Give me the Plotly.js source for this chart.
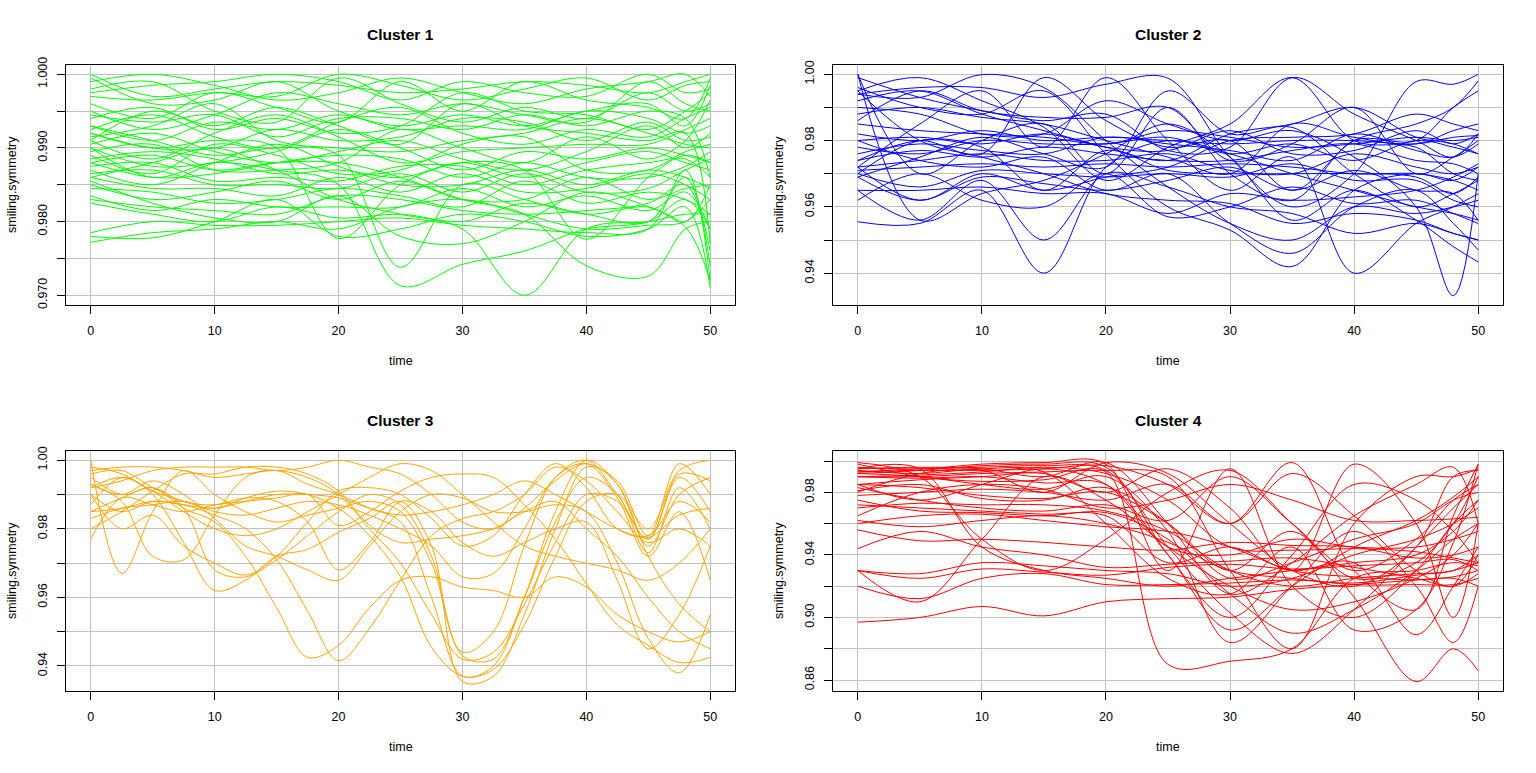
<!DOCTYPE html>
<html><head><meta charset="utf-8">
<script src="https://cdn.plot.ly/plotly-3.0.1.min.js"></script>
<style>html,body{margin:0;padding:0;background:#fff}#chart{width:1536px;height:773px}</style>
</head><body><div id="chart"></div>
<script>
// time grids (knots)
const time12 = [0,5,10,15,20,25,30,35,40,45,48,50];
const time21 = [0,2.5,5,7.5,10,12.5,15,17.5,20,22.5,25,27.5,30,32.5,35,37.5,40,42.5,45,47.5,50];

const titles = ['Cluster 1','Cluster 2','Cluster 3','Cluster 4'];
const colors = ['#00FF00','#0000FF','#FFA500','#FF0000'];
const xLabel = 'time';
const yLabel = 'smiling.symmetry';

const xTickVals = [0,10,20,30,40,50];
const xTickText = ['0','10','20','30','40','50'];
const yTickVals1 = [0.970,0.975,0.980,0.985,0.990,0.995,1.000];
const yTickText1 = ['0.970','','0.980','','0.990','','1.000'];
const yTickVals2 = [0.94,0.95,0.96,0.97,0.98,0.99,1.00];
const yTickText2 = ['0.94','','0.96','','0.98','','1.00'];
const yTickVals3 = [0.94,0.95,0.96,0.97,0.98,0.99,1.00];
const yTickText3 = ['0.94','','0.96','','0.98','','1.00'];
const yTickVals4 = [0.86,0.88,0.90,0.92,0.94,0.96,0.98,1.00];
const yTickText4 = ['0.86','','0.90','','0.94','','0.98',''];

const cluster1 = [
[.9995,.9960,.9965,.9990,.9950,.9930,.9945,.9930,.9950,.9960,.9930,.9985],
[.9980,.9990,.9950,.9935,.9995,.9960,.9935,.9955,.9940,.9975,.9950,.9960],
[.9960,.9940,.9975,.9955,.9935,.9990,.9950,.9990,.9965,.9955,.9940,.9995],
[.9950,.9925,.9945,.9975,.9960,.9945,.9960,.9945,.9935,.9990,.9960,.9950],
[.9940,.9955,.9925,.9940,.9920,.9930,.9975,.9950,.9945,.9925,.9950,.9975],
[.9930,.9910,.9935,.9925,.9945,.9925,.9930,.9925,.9950,.9940,.9920,.9930],
[.9925,.9945,.9915,.9900,.9935,.9955,.9920,.9905,.9925,.9915,.9940,.9955],
[.9920,.9900,.9900,.9925,.9910,.9915,.9940,.9935,.9910,.9935,.9910,.9915],
[.9915,.9930,.9960,.9910,.9900,.9895,.9910,.9920,.9940,.9920,.9905,.9900],
[.9910,.9885,.9920,.9945,.9915,.9880,.9895,.9900,.9905,.9905,.9925,.9940],
[.9905,.9920,.9895,.9880,.9895,.9910,.9885,.9870,.9895,.9930,.9900,.9920],
[.9900,.9875,.9880,.9895,.9925,.9900,.9870,.9895,.9885,.9900,.9890,.9880],
[.9895,.9905,.9870,.9870,.9880,.9925,.9900,.9880,.9915,.9885,.9910,.9965],
[.9890,.9865,.9905,.9890,.9865,.9870,.9905,.9915,.9870,.9870,.9895,.9905],
[.9885,.9895,.9885,.9865,.9870,.9860,.9880,.9860,.9880,.9895,.9880,.9870],
[.9880,.9860,.9865,.9880,.9890,.9885,.9860,.9880,.9860,.9860,.9875,.9895],
[.9875,.9880,.9855,.9860,.9855,.9875,.9875,.9850,.9870,.9880,.9885,.9860],
[.9870,.9850,.9880,.9905,.9875,.9850,.9850,.9870,.9850,.9870,.9860,.9845],
[.9865,.9870,.9850,.9850,.9845,.9865,.9840,.9865,.9840,.9845,.9870,.9885],
[.9860,.9845,.9845,.9835,.9860,.9840,.9865,.9840,.9845,.9865,.9850,.9830],
[.9850,.9830,.9840,.9855,.9830,.9855,.9830,.9830,.9860,.9830,.9845,.9850],
[.9845,.9840,.9825,.9830,.9845,.9835,.9820,.9855,.9825,.9840,.9830,.9810],
[.9835,.9815,.9830,.9820,.9820,.9820,.9845,.9820,.9835,.9815,.9840,.9790],
[.9830,.9820,.9815,.9810,.9835,.9830,.9815,.9810,.9815,.9825,.9850,.9760],
[.9825,.9810,.9800,.9820,.9805,.9810,.9800,.9825,.9810,.9800,.9860,.9740],
[.9785,.9800,.9795,.9795,.9800,.9805,.9795,.9790,.9785,.9790,.9870,.9720],
[.9772,.9785,.9790,.9800,.9790,.9820,.9830,.9810,.9790,.9795,.9800,.9830],
[.9780,.9778,.9800,.9830,.9780,.9790,.9810,.9800,.9780,.9790,.9820,.9710],
[.9900,.9860,.9880,.9870,.9850,.9713,.9742,.9760,.9790,.9800,.9830,.9790],
[.9930,.9910,.9890,.9900,.9890,.9738,.9850,.9830,.9810,.9820,.9800,.9850],
[.9860,.9880,.9900,.9870,.9830,.9810,.9790,.9700,.9790,.9800,.9810,.9810],
[.9880,.9890,.9870,.9880,.9880,.9860,.9830,.9810,.9740,.9726,.9790,.9800],
[.9920,.9900,.9910,.9900,.9777,.9850,.9880,.9870,.9776,.9860,.9890,.9880],
[1.000,.9970,.9980,.9990,.9985,.9975,.9980,.9990,.9985,.9975,.9990,1.000],
[.9990,1.000,.9985,.9965,.9975,.9995,.9975,.9960,.9980,.9990,1.000,.9970],
[.9975,.9985,.9990,1.000,.9990,.9965,.9990,.9975,.9970,1.000,.9975,.9980],
[.9970,.9965,.9975,.9970,1.000,.9985,.9965,.9980,.9995,.9965,.9985,.9990],
[.9855,.9825,.9805,.9800,.9835,.9780,.9770,.9800,.9840,.9820,.9793,.9720],
[.9945,.9935,.9945,.9915,.9940,.9940,.9925,.9945,.9930,.9950,.9940,.9860],
[.9910,.9950,.9930,.9955,.9930,.9905,.9960,.9930,.9920,.9910,.9920,.9770]
];

const cluster2 = [
[.9555,.9550,.9650,.9400,.9720,.9800,.9760,.9700,.9650,.9600,.9580,.9560],
[.9650,.9560,.9680,.9500,.9700,.9660,.9600,.9580,.9520,.9550,.9520,.9500],
[1.000,.9560,.9640,.9680,.9760,.9850,.9750,.9560,.9650,.9560,.9480,.9434],
[.9950,.9990,.9920,.9840,.9680,.9780,.9850,.9990,.9800,.9780,.9700,.9680],
[.9940,.9960,.9960,.9930,.9970,.9988,.9750,.9600,.9700,.9978,.9970,1.000],
[.9940,.9930,.9999,.9960,.9800,.9660,.9550,.9500,.9600,.9580,.9600,.9620],
[.9900,.9880,.9820,.9820,.9920,.9850,.9800,.9830,.9750,.9600,.9332,.9700],
[.9880,.9900,.9870,.9850,.9800,.9750,.9700,.9850,.9810,.9790,.9830,.9850],
[.9850,.9830,.9820,.9810,.9790,.9830,.9810,.9780,.9790,.9810,.9800,.9810],
[.9820,.9800,.9830,.9800,.9810,.9800,.9790,.9800,.9800,.9790,.9810,.9815],
[.9800,.9810,.9790,.9820,.9780,.9770,.9830,.9760,.9770,.9830,.9790,.9820],
[.9780,.9760,.9800,.9790,.9790,.9810,.9760,.9790,.9740,.9800,.9780,.9760],
[.9760,.9790,.9770,.9760,.9810,.9790,.9770,.9740,.9820,.9770,.9750,.9790],
[.9740,.9770,.9750,.9780,.9760,.9740,.9740,.9770,.9790,.9740,.9730,.9700],
[.9720,.9740,.9760,.9740,.9740,.9760,.9710,.9700,.9760,.9720,.9700,.9720],
[.9710,.9720,.9730,.9720,.9730,.9720,.9730,.9720,.9700,.9700,.9680,.9650],
[.9700,.9660,.9710,.9700,.9690,.9700,.9690,.9730,.9680,.9680,.9620,.9600],
[.9690,.9620,.9690,.9670,.9650,.9680,.9720,.9650,.9710,.9650,.9640,.9560],
[.9650,.9650,.9660,.9640,.9640,.9580,.9640,.9620,.9630,.9650,.9690,.9730],
[.9620,.9700,.9620,.9600,.9700,.9570,.9600,.9660,.9610,.9620,.9580,.9550],
[.9950,.9800,.9750,.9700,.9640,.9620,.9610,.9550,.9580,.9560,.9520,.9500],
[1.000,.9700,.9800,.9850,.9700,.9900,.9700,.9620,.9800,.9800,.9900,.9950],
[.9720,.9850,.9950,.9780,.9990,.9800,.9650,.9750,.9400,.9550,.9600,.9640],
[.9960,.9900,.9880,.9950,.9760,.9600,.9530,.9420,.9650,.9700,.9680,.9720],
[.9740,.9800,.9760,.9990,.9860,.9780,.9800,.9650,.9800,.9850,.9900,.9980],
[.9860,.9950,.9890,.9870,.9870,.9900,.9740,.9790,.9900,.9700,.9750,.9800],
[.9800,.9740,.9720,.9750,.9650,.9700,.9550,.9460,.9600,.9650,.9550,.9470],
[.9690,.9750,.9810,.9760,.9720,.9950,.9820,.9840,.9700,.9600,.9640,.9680],
[.9990,.9930,.9890,.9860,.9880,.9770,.9780,.9990,.9880,.9800,.9750,.9820],
[.9720,.9620,.9700,.9650,.9690,.9720,.9800,.9810,.9820,.9880,.9850,.9830],
[.9700,.9800,.9780,.9650,.9770,.9710,.9700,.9700,.9700,.9690,.9640,.9690],
[.9920,.9950,.9880,.9830,.9780,.9740,.9820,.9850,.9900,.9810,.9790,.9760]
];

const cluster3 = [
[.995,.990,.992,.986,.982,.972,.957,.9425,.946,.957,.965,.966,.963,.962,.960,.966,.963,.955,.950,.947,.950],
[.990,.985,.988,.987,.984,.980,.971,.956,.9415,.951,.965,.978,.983,.985,.990,.998,.994,.985,.976,.980,.975],
[1.000,.967,.985,.997,.990,.985,.982,.984,.986,.988,.985,.970,.944,.950,.975,.995,1.000,.990,.977,.995,.985],
[.993,.988,.972,.971,.984,.995,.997,.993,.990,.986,.982,.960,.937,.940,.960,.985,1.000,.993,.975,.990,.995],
[.998,.996,.990,.976,.962,.965,.972,.974,.979,.983,.988,.975,.9355,.937,.955,.980,.998,.994,.978,.999,.990],
[.985,.989,.992,.986,.968,.966,.971,.978,.985,.990,.987,.972,.943,.942,.960,.982,.995,.990,.973,.992,.980],
[.990,.980,.984,.975,.970,.9665,.972,.982,.991,.992,.990,.983,.975,.978,.990,.999,.992,.980,.978,.988,.982],
[.987,.995,.991,.988,.986,.989,.991,.990,.986,.978,.966,.9455,.937,.939,.952,.972,.988,.990,.980,.997,1.000],
[.997,.998,.998,.997,.995,.996,.997,.995,.990,.980,.970,.955,.942,.944,.958,.976,.990,.988,.977,.996,.994],
[.985,.986,.988,.987,.986,.988,.990,.990,.989,.986,.984,.985,.987,.990,.994,.990,.985,.980,.9775,.984,.986],
[.980,.985,.991,.996,.996,.998,.998,.996,.991,.981,.976,.977,.978,.980,.985,.988,.980,.972,.960,.950,.945],
[.977,.989,.987,.985,.987,.988,.989,.990,.981,.985,.991,.995,.996,.995,.987,.977,.964,.952,.946,.941,.9425],
[.992,.994,.997,.998,.998,.998,.997,.998,1.000,.998,.996,.990,.982,.980,.986,.994,.999,.993,.972,.958,.950],
[.993,.990,.994,.990,.983,.975,.972,.968,.965,.975,.985,.990,.989,.985,.985,.987,.985,.970,.948,.938,.955],
[.996,.997,.992,.988,.987,.989,.988,.982,.968,.976,.988,.985,.976,.972,.976,.980,.982,.965,.945,.955,.975],
[.983,.986,.987,.988,.985,.984,.986,.988,.987,.984,.980,.975,.966,.967,.980,.995,.999,.989,.972,.985,.965],
[.992,.995,.991,.985,.980,.978,.980,.985,.990,.995,.999,.997,.990,.982,.975,.972,.970,.968,.965,.970,.980]
];

const cluster4 = [
[.897,.900,.907,.901,.910,.912,.913,.918,.921,.924,.926,.930],
[.930,.925,.931,.929,.927,.932,.934,.931,.933,.935,.937,.930],
[.920,.912,.925,.928,.921,.921,.922,.924,.922,.927,.930,.935],
[.956,.949,.950,.948,.945,.943,.948,.946,.945,.938,.940,.945],
[.944,.955,.945,.940,.932,.934,.936,.938,.932,.925,.920,.928],
[.970,.973,.972,.972,.968,.955,.930,.920,.925,.928,.930,.940],
[.975,.968,.967,.965,.967,.950,.915,.890,.905,.930,.950,.960],
[.981,.985,.976,.975,.983,.960,.925,.935,.950,.960,.975,.980],
[.990,.991,.993,.996,.992,.975,.945,.943,.944,.942,.938,.935],
[.993,.995,.996,.997,.994,.945,.903,.877,.905,.945,.970,.985],
[.995,.996,.995,.990,.999,.960,.915,.935,.965,.985,.996,.960],
[.992,.990,.985,.982,.990,.955,.884,.920,.955,.920,.884,.920],
[.998,.990,.987,.988,.993,.870,.872,.880,.925,.930,.935,.933],
[.985,.983,.978,.976,.980,.960,.930,.955,.913,.859,.880,.866],
[.996,.995,.998,.999,.998,.930,.995,.920,.900,.930,.960,.975],
[.993,.994,.994,.995,.997,.985,.960,.999,.930,.905,.965,.998],
[.990,.990,.992,.993,.994,.990,.930,.880,.960,.990,.990,.995],
[.985,.988,.990,.992,.980,.995,.970,.930,.998,.960,.900,.960],
[.999,.990,.950,.930,.950,.980,.994,.960,.925,.935,.960,.990],
[.995,.995,.945,.930,.925,.920,.925,.930,.935,.940,.955,.975],
[.930,.910,.950,.990,.975,.945,.920,.905,.910,.925,.940,.960],
[.985,.975,.985,.995,.985,.945,.940,.950,.945,.945,.950,.955],
[.965,.980,.985,.982,.970,.975,.985,.975,.962,.962,.963,.964],
[.983,.975,.970,.968,.972,.962,.990,.960,.930,.950,.975,.985],
[.960,.965,.966,.962,.958,.955,.945,.930,.926,.924,.925,.920],
[.990,.989,.990,.986,.985,.940,.892,.920,.945,.962,.977,.990],
[.994,.992,.995,.993,.960,.925,.915,.945,.892,.905,.948,.998],
[.972,.970,.968,.966,.965,.935,.945,.930,.935,.889,.920,.945],
[.962,.958,.962,.965,.960,.948,.930,.925,.921,.921,.921,.925],
[.978,.980,.982,.980,.975,.985,.960,.992,.965,.930,.920,.940],
[.992,.994,.997,.998,.996,.940,.900,.940,.985,.975,.955,.935],
[.980,.992,.994,.980,.999,.992,.960,.930,.920,.945,.990,.994],
[.930,.928,.935,.933,.930,.928,.920,.925,.940,.950,.960,.970]
];

const FONT = 'Arial, "Liberation Sans", sans-serif';
const panels = [
  {data: cluster1, t: time12, yv: yTickVals1, yt: yTickText1, yr: [0.96868, 1.00126]},
  {data: cluster2, t: time12, yv: yTickVals2, yt: yTickText2, yr: [0.9304, 1.0028]},
  {data: cluster3, t: time21, yv: yTickVals3, yt: yTickText3, yr: [0.9327, 1.0027]},
  {data: cluster4, t: time12, yv: yTickVals4, yt: yTickText4, yr: [0.8530, 1.0064]}
];
const W = 1536, H = 773;
const boxes = [ // [left, right, top, bottom] in px
  [66, 735, 65, 305], [833, 1503, 65, 305],
  [66, 735, 451, 691], [833, 1503, 451, 691]
];

const traces = [];
const layout = {
  width: W, height: H, margin: {l:0, r:0, t:0, b:0},
  paper_bgcolor: '#fff', plot_bgcolor: '#fff', showlegend: false,
  font: {family: FONT, size: 12.5, color: '#000'},
  annotations: []
};

panels.forEach((p, i) => {
  const n = i + 1;
  const xa = n === 1 ? 'x' : 'x' + n, ya = n === 1 ? 'y' : 'y' + n;
  p.data.forEach(row => {
    traces.push({x: p.t, y: row, xaxis: xa, yaxis: ya, type: 'scatter', mode: 'lines',
      line: {color: colors[i], width: 1, shape: 'spline', smoothing: 1}, hoverinfo: 'skip'});
  });
  const b = boxes[i];
  const axCommon = {
    showline: true, mirror: true, linecolor: '#000', linewidth: 1,
    ticks: 'outside', ticklen: 8, tickwidth: 1, tickcolor: '#000',
    showgrid: true, gridcolor: '#C0C0C0', gridwidth: 1, zeroline: false,
    tickmode: 'array', tickfont: {family: FONT, size: 12.5, color: '#000'}, fixedrange: true
  };
  layout['xaxis' + (n === 1 ? '' : n)] = Object.assign({}, axCommon, {
    domain: [b[0] / W, b[1] / W], range: [-2, 52], anchor: ya,
    tickvals: xTickVals, ticktext: xTickText, ticklabelstandoff: 6
  });
  layout['yaxis' + (n === 1 ? '' : n)] = Object.assign({}, axCommon, {
    domain: [(H - b[3]) / H, (H - b[2]) / H], range: p.yr, anchor: xa,
    tickvals: p.yv, ticktext: p.yt, tickangle: -90, ticklabelstandoff: 5
  });
  const cx = (b[0] + b[1]) / 2 / W;
  layout.annotations.push({text: '<b>' + titles[i] + '</b>', xref: 'paper', yref: 'paper',
    x: cx, y: (H - (b[2] - 31)) / H, xanchor: 'center', yanchor: 'middle', showarrow: false,
    font: {family: FONT, size: 15.5, color: '#000'}});
  layout.annotations.push({text: xLabel, xref: 'paper', yref: 'paper',
    x: cx, y: (H - (b[3] + 56)) / H, xanchor: 'center', yanchor: 'middle', showarrow: false,
    font: {family: FONT, size: 12.5, color: '#000'}});
  layout.annotations.push({text: yLabel, xref: 'paper', yref: 'paper', textangle: -90,
    x: (b[0] - 54) / W, y: (H - (b[2] + b[3]) / 2) / H, xanchor: 'center', yanchor: 'middle', showarrow: false,
    font: {family: FONT, size: 12.5, color: '#000'}});
});

Plotly.newPlot('chart', traces, layout, {displayModeBar: false, staticPlot: true});
</script>
</body></html>
